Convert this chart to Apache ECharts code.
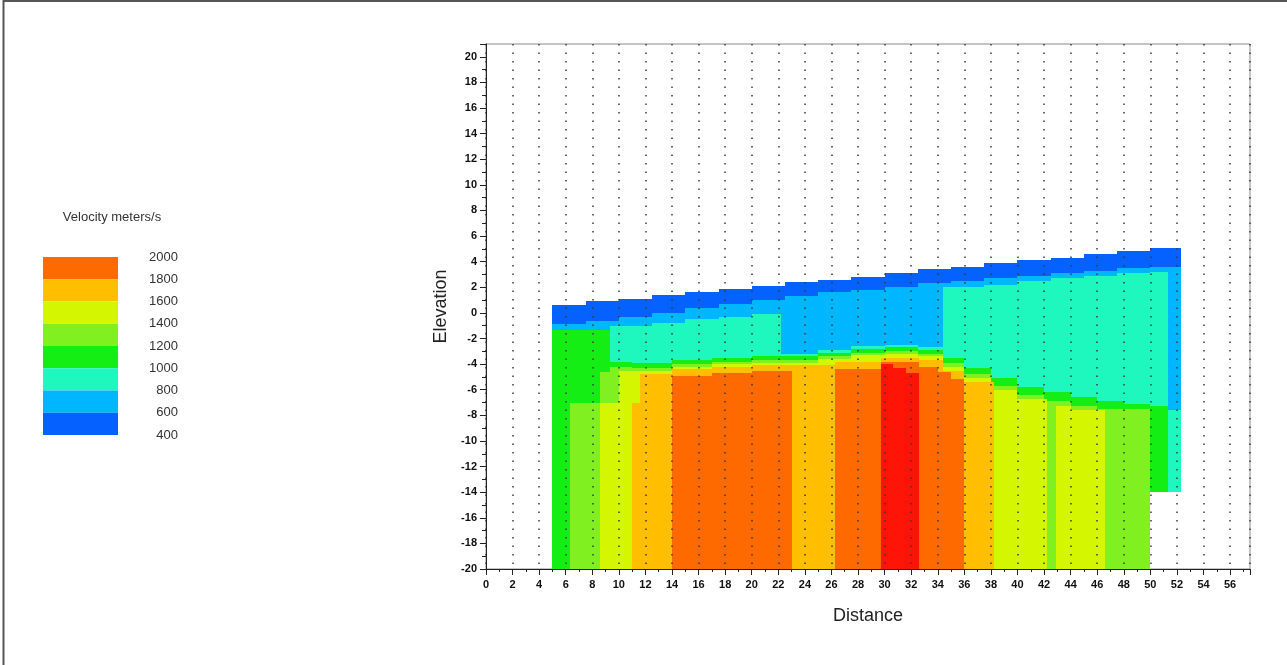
<!DOCTYPE html>
<html>
<head>
<meta charset="utf-8">
<title>Velocity section</title>
<script src="https://cdn.jsdelivr.net/npm/echarts@6/dist/echarts.min.js"></script>
<style>
  html, body { margin: 0; padding: 0; background: #fff; }
  #chart { width: 1287px; height: 665px; }
</style>
</head>
<body>
<div id="chart"></div>
<script>
// Base of the section: [fromDistance, toDistance, elevation]
const floorSteps = [[5, 50, -20], [50, 52.3, -14]];

// Top of each velocity class (everything at or faster than the class),
// as steps [fromDistance, toDistance, topElevation]. Velocities in m/s.
const layer500 = [
  [5, 7.5, 0.6], [7.5, 10, 0.9], [10, 12.5, 1.1], [12.5, 15, 1.4], [15, 17.5, 1.6],
  [17.5, 20, 1.9], [20, 22.5, 2.1], [22.5, 25, 2.4], [25, 27.5, 2.6], [27.5, 30, 2.8],
  [30, 32.5, 3.1], [32.5, 35, 3.4], [35, 37.5, 3.6], [37.5, 40, 3.9], [40, 42.5, 4.1],
  [42.5, 45, 4.3], [45, 47.5, 4.6], [47.5, 50, 4.8], [50, 52.3, 5.1]
];
const layer700 = [
  [5, 7.5, -0.9], [7.5, 10, -0.6], [10, 12.5, -0.3], [12.5, 15, 0.0], [15, 17.5, 0.4],
  [17.5, 20, 0.7], [20, 22.5, 1.0], [22.5, 25, 1.3], [25, 27.5, 1.6], [27.5, 30, 1.8],
  [30, 32.5, 2.0], [32.5, 35, 2.3], [35, 37.5, 2.5], [37.5, 40, 2.7], [40, 42.5, 2.9],
  [42.5, 45, 3.1], [45, 47.5, 3.3], [47.5, 50, 3.5], [50, 52.3, 3.6]
];
const layer900 = [
  [5, 9.3, -1.3], [9.3, 12.5, -1.0], [12.5, 15, -0.8], [15, 17.5, -0.5], [17.5, 20, -0.3],
  [20, 22.2, -0.1], [22.2, 25, -3.2], [25, 27.5, -2.9], [27.5, 30, -2.6], [30, 32.5, -2.5],
  [32.5, 34.4, -2.7], [34.4, 37.5, 2.0], [37.5, 40, 2.2], [40, 42.5, 2.5], [42.5, 45, 2.7],
  [45, 47.5, 2.9], [47.5, 50, 3.1], [50, 51.3, 3.2], [51.3, 52.3, -7.6]
];
const layer1100 = [
  [5, 9.3, -1.3], [9.3, 11, -3.8], [11, 14, -3.9], [14, 17, -3.7], [17, 20, -3.5],
  [20, 22.2, -3.4], [22.2, 25, -3.4], [25, 27.5, -3.1], [27.5, 30, -2.8], [30, 32.5, -2.7],
  [32.5, 34.4, -2.9], [34.4, 36, -3.5], [36, 38, -4.3], [38, 40, -5.1], [40, 42, -5.8],
  [42, 44, -6.2], [44, 46, -6.6], [46, 48, -6.9], [48, 50, -7.1], [50, 51.3, -7.3]
];
const layer1300 = [
  [6.3, 8.6, -7.0], [8.6, 9.3, -4.6], [9.3, 11, -4.2], [11, 14, -4.3], [14, 17, -4.0],
  [17, 20, -3.8], [20, 22.2, -3.7], [22.2, 25, -3.7], [25, 27.5, -3.4], [27.5, 30, -3.1],
  [30, 32.5, -3.0], [32.5, 34.4, -3.2], [34.4, 36, -3.9], [36, 38, -4.8], [38, 40, -5.7],
  [40, 42, -6.4], [42, 44, -6.9], [44, 46, -7.3], [46, 50, -7.5]
];
const layer1500 = [
  [8.6, 10, -7.0], [10, 11, -4.5], [11, 14, -4.5], [14, 17, -4.2], [17, 20, -4.0],
  [20, 22.2, -3.9], [22.2, 25, -3.9], [25, 27.5, -3.6], [27.5, 30, -3.3], [30, 32.5, -3.2],
  [32.5, 34.4, -3.4], [34.4, 36, -4.2], [36, 38, -5.1], [38, 40, -6.0], [40, 42.2, -6.7],
  [42.9, 44, -7.3], [44, 46.6, -7.6]
];
const layer1700 = [
  [11, 11.6, -7.0], [11.6, 14, -4.8], [14, 17, -4.4], [17, 20, -4.2], [20, 23, -4.1],
  [23, 26.3, -4.1], [26.3, 29.7, -3.8], [29.7, 32.6, -3.5], [32.6, 34.4, -3.7],
  [34.4, 36, -4.5], [36, 38.2, -5.4]
];
const layer1900 = [
  [14, 17, -4.9], [17, 20, -4.7], [20, 23, -4.5], [26.3, 29.7, -4.4], [29.7, 32.6, -3.8],
  [32.6, 34, -4.2], [34, 35, -4.6], [35, 36, -5.2]
];
const layer2100 = [[29.7, 30.6, -4.0], [30.6, 31.6, -4.3], [31.6, 32.6, -4.7]];

// Colour scale classes and the legend tick values
const classBreaks = [2000, 1800, 1600, 1400, 1200, 1000, 800, 600, 400];
const classColors = ['#FF6A00', '#FFBF00', '#D4F700', '#80F020', '#14EE14', '#1EF7BE', '#00B6FF', '#0561FF'];
const fastColor = '#FF1408';

const layers = [
  [500, layer500], [700, layer700], [900, layer900], [1100, layer1100], [1300, layer1300],
  [1500, layer1500], [1700, layer1700], [1900, layer1900], [2100, layer2100]
];

function floorAt(x0, x1) {
  const mid = (x0 + x1) / 2;
  for (const [a, b, z] of floorSteps) if (mid >= a && mid <= b) return z;
  return -20;
}

// Slower classes first so faster material paints over them
const cells = [];
layers.forEach(([v, steps]) => {
  steps.forEach(([x0, x1, top]) => cells.push([x0, x1, top, floorAt(x0, x1), v]));
});

const pieces = [];
for (let i = 0; i < classColors.length; i++) {
  pieces.push({ min: classBreaks[i + 1], max: classBreaks[i], color: classColors[i] });
}

const chart = echarts.init(document.getElementById('chart'), null, { renderer: 'canvas' });

const gridLeft = 486, gridTop = 44, gridRight = 37, gridBottom = 96;
const keyLeft = 43, keyTop = 257, keyW = 75, keyH = 22.25;

const tickFont = { fontFamily: 'Liberation Sans, Arial, sans-serif', fontWeight: 'bold', fontSize: 11, color: '#111' };

const legendLabels = classBreaks.map((v, i) => ({
  type: 'text',
  right: null,
  x: 178,
  y: keyTop + i * keyH,
  style: {
    text: String(v),
    fill: '#333',
    font: '13px "Liberation Sans", Arial, sans-serif',
    align: 'right',
    verticalAlign: 'middle'
  },
  silent: true
}));

chart.setOption({
  animation: false,
  backgroundColor: '#fff',
  grid: {
    left: gridLeft, top: gridTop, right: gridRight, bottom: gridBottom,
    show: true, borderColor: '#8a8a8a', borderWidth: 1, backgroundColor: 'transparent'
  },
  xAxis: {
    type: 'value', min: 0, max: 57.5, interval: 2, z: 3,
    name: 'Distance', nameLocation: 'middle', nameGap: 38,
    nameTextStyle: { fontFamily: 'Liberation Sans, Arial, sans-serif', fontSize: 18, color: '#222' },
    axisLine: { show: true, onZero: false, lineStyle: { color: '#222', width: 1 } },
    axisTick: { show: true, length: 6, lineStyle: { color: '#222' } },
    minorTick: { show: true, splitNumber: 2, length: 3, lineStyle: { color: '#222' } },
    axisLabel: Object.assign({ margin: 10, showMaxLabel: false }, tickFont),
    splitLine: { show: true, lineStyle: { type: [1.5, 7], width: 1.5, color: '#3a3a3a' } },
    minorSplitLine: { show: false }
  },
  yAxis: {
    type: 'value', min: -20, max: 21, interval: 2, z: 3,
    name: 'Elevation', nameLocation: 'middle', nameGap: 36, nameRotate: 90,
    nameTextStyle: { fontFamily: 'Liberation Sans, Arial, sans-serif', fontSize: 18, color: '#222' },
    axisLine: { show: true, onZero: false, lineStyle: { color: '#222', width: 1 } },
    axisTick: { show: true, length: 6, lineStyle: { color: '#222' } },
    minorTick: { show: true, splitNumber: 2, length: 4, lineStyle: { color: '#222' } },
    axisLabel: Object.assign({ margin: 9, showMaxLabel: false }, tickFont),
    splitLine: { show: false }
  },
  visualMap: {
    type: 'piecewise',
    dimension: 4,
    seriesIndex: 0,
    orient: 'vertical',
    left: keyLeft, top: keyTop,
    padding: 0,
    itemWidth: keyW, itemHeight: keyH, itemGap: 0,
    itemSymbol: 'rect',
    showLabel: false,
    hoverLink: false,
    selectedMode: false,
    pieces: pieces,
    outOfRange: { color: fastColor }
  },
  graphic: [
    {
      type: 'rect', silent: true, z: 100,
      shape: { x: 3.5, y: 1, width: 1300, height: 700 },
      style: { fill: 'none', stroke: '#555', lineWidth: 2 }
    },
    {
      type: 'text', x: 112, y: 217, silent: true,
      style: {
        text: 'Velocity meters/s', fill: '#333',
        font: '13px "Liberation Sans", Arial, sans-serif',
        align: 'center', verticalAlign: 'middle'
      }
    }
  ].concat(legendLabels),
  series: [{
    type: 'custom',
    coordinateSystem: 'cartesian2d',
    encode: { x: [0, 1], y: [2, 3] },
    data: cells,
    z: 2,
    renderItem: function (params, api) {
      const p0 = api.coord([api.value(0), api.value(2)]);
      const p1 = api.coord([api.value(1), api.value(3)]);
      const x0 = Math.round(p0[0]), x1 = Math.round(p1[0]);
      const y0 = Math.round(p0[1]), y1 = Math.round(p1[1]);
      return {
        type: 'rect',
        shape: { x: x0, y: y0, width: x1 - x0, height: y1 - y0 },
        style: { fill: api.visual('color') }
      };
    }
  }]
});
</script>
</body>
</html>
